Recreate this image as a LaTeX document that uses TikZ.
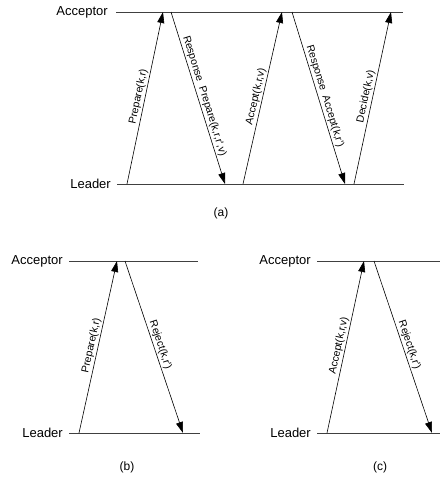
\documentclass[tikz,border=0pt]{standalone}
\usepackage{fontspec}
\setmainfont{Liberation Sans}
\usetikzlibrary{arrows.meta}
\begin{document}
\begin{tikzpicture}[x=1pt,y=-1pt,
  lane/.style={draw=black!75, line width=0.9pt},
  msg/.style={draw=black, line width=0.6pt, -{Triangle[length=11pt,width=7pt]}},
  lbl/.style={font=\fontsize{10.5}{12}\selectfont, sloped, above, inner sep=1.5pt, pos=0.5},
  role/.style={font=\fontsize{13}{15}\selectfont, anchor=east, inner sep=0pt},
  captext/.style={font=\fontsize{12}{14}\selectfont, inner sep=0pt}]
\useasboundingbox (0,0) rectangle (440,480);
% ---------- (a) ----------
\node[role] (accA) at (108,12) {Acceptor};
\node[role] (leadA) at (111,184) {Leader};
\coordinate (accAs) at (116,12);  \coordinate (accAe) at (403,12);
\coordinate (leadAs) at (117,184); \coordinate (leadAe) at (404,184);
\draw[lane] (accAs) -- (accAe);
\draw[lane] (leadAs) -- (leadAe);
\coordinate (a1) at (127,184); \coordinate (a2) at (163,12);
\coordinate (a3) at (171,12);  \coordinate (a4) at (225,184);
\coordinate (a5) at (243,184); \coordinate (a6) at (282,12);
\coordinate (a7) at (292,12);  \coordinate (a8) at (345,184);
\coordinate (a9) at (354,184); \coordinate (a10) at (391,12);
\draw[msg] (a1) -- node[lbl]{Prepare(k,r)} (a2);
\draw[msg] (a3) -- node[lbl]{Response\ \ Prepare(k,r,r\textquotesingle,v)} (a4);
\draw[msg] (a5) -- node[lbl]{Accept(k,r,v)} (a6);
\draw[msg] (a7) -- node[lbl]{Response\ \ Accept(k,r\textquotesingle)} (a8);
\draw[msg] (a9) -- node[lbl]{Decide(k,v)} (a10);
\node[captext] (capA) at (221,213) {(a)};
% ---------- (b) ----------
\node[role] (accB) at (63,261) {Acceptor};
\node[role] (leadB) at (63,433) {Leader};
\coordinate (accBs) at (69,261);  \coordinate (accBe) at (198,261);
\coordinate (leadBs) at (69,433); \coordinate (leadBe) at (200,433);
\draw[lane] (accBs) -- (accBe);
\draw[lane] (leadBs) -- (leadBe);
\coordinate (b1) at (79,433);  \coordinate (b2) at (117,261);
\coordinate (b3) at (125,261); \coordinate (b4) at (183,433);
\draw[msg] (b1) -- node[lbl]{Prepare(k,r)} (b2);
\draw[msg] (b3) -- node[lbl]{Reject(k,r\textquotesingle)} (b4);
\node[captext] (capB) at (127,467) {(b)};
% ---------- (c) ----------
\node[role] (accC) at (311,261) {Acceptor};
\node[role] (leadC) at (311,433) {Leader};
\coordinate (accCs) at (317,261);  \coordinate (accCe) at (440,261);
\coordinate (leadCs) at (317,433); \coordinate (leadCe) at (440,433);
\draw[lane] (accCs) -- (accCe);
\draw[lane] (leadCs) -- (leadCe);
\coordinate (c1) at (327,433); \coordinate (c2) at (364,261);
\coordinate (c3) at (374,261); \coordinate (c4) at (432,433);
\draw[msg] (c1) -- node[lbl]{Accept(k,r,v)} (c2);
\draw[msg] (c3) -- node[lbl]{Reject(k,r\textquotesingle)} (c4);
\node[captext] (capC) at (380,467) {(c)};
\end{tikzpicture}
\end{document}
